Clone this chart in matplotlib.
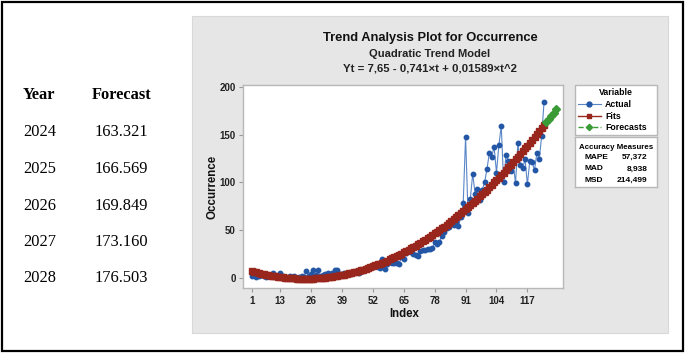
import matplotlib
matplotlib.use("Agg")
import matplotlib.pyplot as plt
import numpy as np
from matplotlib.patches import Rectangle
from matplotlib.lines import Line2D

# ---------------- data ----------------
actual = [2, 3, 1, 2, 3, 2, 1, 2, 3, 5, 2, 1,
          5, 2, 1, 0, 2, 1, 2, 0, 1, 2,
          1, 7, 2, 4, 8, 3, 8, 2, 3, 4, 5, 3, 5, 8, 8, 4, 3, 5,
          4, 5, 4, 6, 7, 5, 8, 7, 9, 11, 10, 11,
          12, 11, 10, 20, 9, 14, 17, 15,
          16, 15, 14, 22, 20, 26, 28, 27, 25, 24,
          23, 28, 29, 29, 30, 30, 31, 38, 35, 38,
          44, 48, 52, 53, 57, 55, 58, 54, 64, 78,
          148, 68, 83, 109, 88, 93, 81, 92, 100, 114,
          131, 127, 137, 110, 139, 159, 100, 129, 122, 112,
          120, 99, 141, 118, 115, 124, 98, 122, 121, 113, 131, 124, 149, 184]
# quadratic trend model coefficients shown in the chart
coef_a, coef_b, coef_c = 7.65, -0.741, 0.01589
forecast_years = ["2024", "2025", "2026", "2027", "2028"]
forecast_vals = [163.321, 166.569, 169.849, 173.160, 176.503]
x_ticks = [1, 13, 26, 39, 52, 65, 78, 91, 104, 117]
y_ticks = [0, 50, 100, 150, 200]
acc_names = ["MAPE", "MAD", "MSD"]
acc_vals = ["57,372", "8,938", "214,499"]

t_act = np.arange(1, len(actual) + 1)
fits = coef_a + coef_b * t_act + coef_c * t_act ** 2
t_fc = np.arange(len(actual) + 1, len(actual) + 1 + len(forecast_vals))

# ---------------- figure ----------------
W, H = 685, 353
fig = plt.figure(figsize=(W / 100, H / 100), dpi=100)
fig.patch.set_facecolor("white")

SANS = ["Liberation Sans", "DejaVu Sans"]
SERIF = ["Liberation Serif", "DejaVu Serif"]

# outer border
fig.patches.append(Rectangle((2 / W, 2 / H), 1 - 4 / W, 1 - 4 / H, transform=fig.transFigure,
                             fill=False, edgecolor="black", linewidth=1.6, zorder=-5))
# grey panel
fig.patches.append(Rectangle((192 / W, 1 - 333 / H), (668 - 192) / W, (333 - 16) / H,
                             transform=fig.transFigure, facecolor="#e6e6e6",
                             edgecolor="#d8d8d8", linewidth=0.8, zorder=-5))

# main axes
L, R, T, B = 243.3, 563.3, 85, 288.3
ax = fig.add_axes([L / W, 1 - B / H, (R - L) / W, (B - T) / H])
ax.set_zorder(2)
ax.set_facecolor("white")
ax.plot(t_act, actual, color="#5a86c8", linewidth=0.8, marker="o", markersize=3.2,
        markerfacecolor="#2456a6", markeredgecolor="#2456a6", zorder=3)
ax.plot(t_act, fits, color="#9a2a20", linewidth=1.0, marker="s", markersize=4.0,
        markerfacecolor="#98261c", markeredgecolor="#98261c", zorder=4)
ax.plot(t_fc, forecast_vals, color="#3a9a35", linewidth=1.0, linestyle="--", marker="D",
        markersize=3.6, markerfacecolor="#3a9a35", markeredgecolor="#3a9a35", zorder=5)
ax.set_xlim(-2.5, 132.1)
ax.set_ylim(-11, 202)
ax.set_xticks(x_ticks)
ax.set_yticks(y_ticks)
for s in ax.spines.values():
    s.set_color("#b8b8b8")
    s.set_linewidth(1.0)
ax.tick_params(direction="out", length=3, width=0.8, color="#999999", labelsize=7,
               labelcolor="#222222", pad=2.5)
for lab in ax.get_xticklabels() + ax.get_yticklabels():
    lab.set_family(SANS)
    lab.set_weight("bold")

# titles
fig.text(430 / W, 1 - 38.3 / H, "Trend Analysis Plot for Occurrence", ha="center", va="center",
         fontsize=9.3, fontweight="bold", family=SANS, color="#111111")
fig.text(430 / W, 1 - 54.3 / H, "Quadratic Trend Model", ha="center", va="center",
         fontsize=8, fontweight="bold", family=SANS, color="#222222")
fig.text(430 / W, 1 - 68.3 / H, "Yt = 7,65 - 0,741\u00d7t + 0,01589\u00d7t^2", ha="center",
         va="center", fontsize=8.2, fontweight="bold", family=SANS, color="#222222")
fig.text(213 / W, 1 - 187 / H, "Occurrence", rotation=90, ha="center", va="center",
         fontsize=8.3, fontweight="bold", family=SANS, color="#111111")
fig.text(404 / W, 1 - 314 / H, "Index", ha="center", va="center",
         fontsize=8.3, fontweight="bold", family=SANS, color="#111111")

# legend
handles = [
    Line2D([], [], color="#5a86c8", linewidth=0.8, marker="o", markersize=3.5,
           markerfacecolor="#2456a6", markeredgecolor="#2456a6"),
    Line2D([], [], color="#9a2a20", linewidth=1.0, marker="s", markersize=3.5,
           markerfacecolor="#98261c", markeredgecolor="#98261c"),
    Line2D([], [], color="#3a9a35", linewidth=1.0, linestyle="--", marker="D", markersize=3.2,
           markerfacecolor="#3a9a35", markeredgecolor="#3a9a35"),
]
leg = fig.legend(handles, ["Actual", "Fits", "Forecasts"], title="Variable",
                 loc="upper left", bbox_to_anchor=(575 / W, 1 - 85 / H, (657 - 575) / W, 0.0001),
                 mode="expand", fancybox=False, frameon=True,
                 title_fontsize=6.3, handlelength=2.6, handletextpad=0.5, labelspacing=0.32,
                 borderpad=0.35, borderaxespad=0,
                 prop={"family": SANS, "weight": "bold", "size": 6.3})
leg.set_zorder(3)
leg.get_frame().set_edgecolor("#b8b8b8")
leg.get_frame().set_linewidth(1.0)
leg.get_frame().set_alpha(1)
leg.get_title().set_fontweight("bold")
leg.get_title().set_family(SANS)

# accuracy box
bx = fig.add_axes([575 / W, 1 - 187 / H, (657 - 575) / W, (187 - 137) / H])
bx.set_zorder(2)
bx.set_xticks([])
bx.set_yticks([])
for s in bx.spines.values():
    s.set_color("#b8b8b8")
    s.set_linewidth(1.0)
bx.text(0.5, 0.8, "Accuracy Measures", ha="center", va="center", fontsize=5.7,
        fontweight="bold", family=SANS, transform=bx.transAxes)
row_frac = [0.6, 0.36, 0.14]
for nm, vl, yy in zip(acc_names, acc_vals, row_frac):
    bx.text(0.11, yy, nm, ha="left", va="center", fontsize=6.0, fontweight="bold",
            family=SANS, transform=bx.transAxes)
    bx.text(0.885, yy, vl, ha="right", va="center", fontsize=6.0, fontweight="bold",
            family=SANS, transform=bx.transAxes)

# left table
fig.text(23 / W, 1 - 95 / H, "Year", ha="left", va="center", fontsize=11.8,
         fontweight="bold", family=SERIF)
fig.text(92 / W, 1 - 95 / H, "Forecast", ha="left", va="center", fontsize=11.8,
         fontweight="bold", family=SERIF)
row_y = [132.3, 169, 205.7, 242.3, 278.3]
for yr, val, ry in zip(forecast_years, forecast_vals, row_y):
    fig.text(23 / W, 1 - ry / H, yr, ha="left", va="center", fontsize=11.8, family=SERIF)
    fig.text(95 / W, 1 - ry / H, f"{val:.3f}", ha="left", va="center", fontsize=11.8,
             family=SERIF)

fig.savefig("out.png", dpi=100)
